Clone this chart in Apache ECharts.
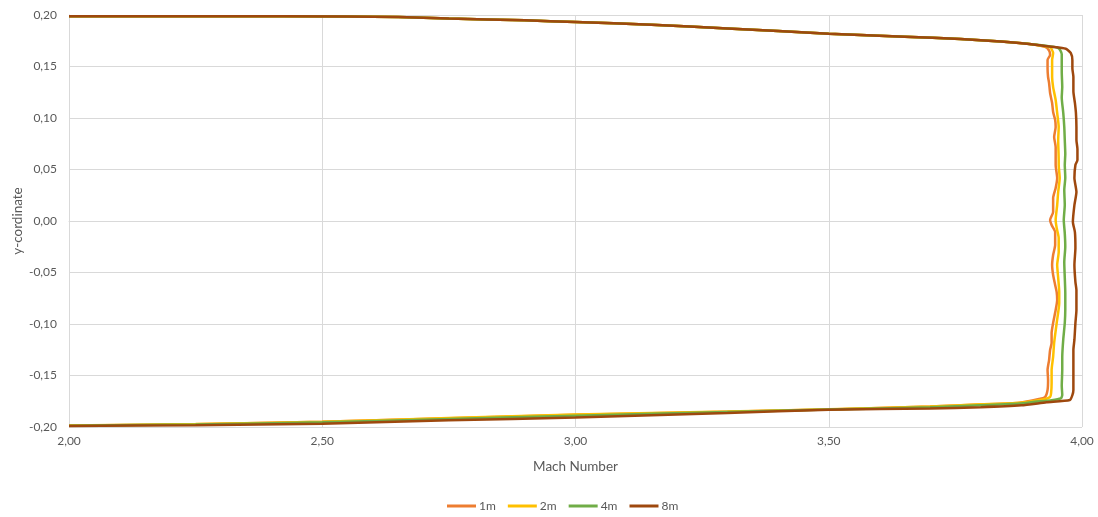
<!DOCTYPE html>
<html>
<head>
<meta charset="utf-8">
<title>Mach Number profile</title>
<script src="https://cdn.jsdelivr.net/npm/echarts@6/dist/echarts.min.js"></script>
<style>
  html, body { margin: 0; padding: 0; background: #ffffff; }
  #chart { width: 1098px; height: 517px; }
</style>
</head>
<body>
<div id="chart"></div>
<script>
// Mach number across the channel height, [mach, y] pairs ordered from top wall to bottom wall.
var seriesNames = ['1m', '2m', '4m', '8m'];

var topWall = [
  [2.00, 0.1988], [2.30, 0.1988], [2.55, 0.1986], [2.65, 0.1980], [2.75, 0.1965],
  [2.90, 0.1948], [3.00, 0.1932], [3.15, 0.1905], [3.30, 0.1870], [3.50, 0.1818],
  [3.65, 0.1790], [3.76, 0.1767], [3.84, 0.1742], [3.90, 0.1716]
];

var profile1m = [
  [3.927, 0.1690], [3.935, 0.1655], [3.937, 0.1612], [3.932, 0.1563], [3.932, 0.1480],
  [3.933, 0.1398], [3.935, 0.1340], [3.937, 0.1243], [3.941, 0.1146], [3.943, 0.1058],
  [3.947, 0.0980], [3.948, 0.0913], [3.945, 0.0816], [3.948, 0.0718], [3.948, 0.0592],
  [3.948, 0.0544], [3.951, 0.0417], [3.948, 0.0320], [3.943, 0.0223], [3.943, 0.0087],
  [3.937, 0.0010], [3.940, -0.0039], [3.947, -0.0107], [3.947, -0.0233], [3.943, -0.0330],
  [3.941, -0.0427], [3.943, -0.0524], [3.947, -0.0621], [3.950, -0.0690], [3.951, -0.0767],
  [3.948, -0.0864], [3.943, -0.0990], [3.940, -0.1087], [3.940, -0.1184], [3.937, -0.1252],
  [3.935, -0.1350], [3.932, -0.1447], [3.933, -0.1544], [3.932, -0.1640], [3.927, -0.1709],
  [3.915, -0.1728], [3.877, -0.1764], [3.80, -0.1781], [3.70, -0.1801], [3.50, -0.1829],
  [3.30, -0.1851], [3.00, -0.1882], [2.75, -0.1914], [2.50, -0.1950], [2.25, -0.1973],
  [2.00, -0.1986]
];

var profile2m = [
  [3.937, 0.1685], [3.943, 0.1630], [3.941, 0.1563], [3.941, 0.1480], [3.941, 0.1398],
  [3.943, 0.1300], [3.948, 0.1175], [3.951, 0.1049], [3.954, 0.0913], [3.953, 0.0786],
  [3.954, 0.0592], [3.954, 0.0544], [3.956, 0.0417], [3.953, 0.0282], [3.951, 0.0155],
  [3.948, 0.0010], [3.950, -0.0068], [3.954, -0.0165], [3.954, -0.0301], [3.951, -0.0427],
  [3.953, -0.0553], [3.955, -0.0689], [3.955, -0.0796], [3.950, -0.0990], [3.945, -0.1184],
  [3.943, -0.1320], [3.940, -0.1447], [3.940, -0.1573], [3.939, -0.1670], [3.937, -0.1709],
  [3.925, -0.1730], [3.877, -0.1764], [3.80, -0.1780], [3.70, -0.1800], [3.50, -0.1828],
  [3.30, -0.1850], [3.00, -0.1879], [2.75, -0.1912], [2.50, -0.1949], [2.25, -0.1972],
  [2.00, -0.1985]
];

var profile4m = [
  [3.953, 0.1680], [3.960, 0.1620], [3.960, 0.1563], [3.960, 0.1450], [3.961, 0.1300],
  [3.960, 0.1200], [3.963, 0.1049], [3.965, 0.0913], [3.966, 0.0786], [3.967, 0.0650],
  [3.966, 0.0544], [3.967, 0.0420], [3.965, 0.0300], [3.966, 0.0155], [3.964, 0.0010],
  [3.966, -0.0120], [3.967, -0.0250], [3.965, -0.0400], [3.966, -0.0550], [3.967, -0.0700],
  [3.967, -0.0860], [3.966, -0.0990], [3.963, -0.1150], [3.961, -0.1320], [3.961, -0.1450],
  [3.960, -0.1600], [3.961, -0.1690], [3.958, -0.1723], [3.940, -0.1740], [3.907, -0.1755],
  [3.877, -0.1772], [3.80, -0.1790], [3.70, -0.1808], [3.50, -0.1830], [3.30, -0.1855],
  [3.00, -0.1890], [2.75, -0.1922], [2.50, -0.1955], [2.25, -0.1975], [2.00, -0.1987]
];

var profile8m = [
  [3.940, 0.1692], [3.968, 0.1672], [3.978, 0.1630], [3.981, 0.1560], [3.981, 0.1480],
  [3.983, 0.1400], [3.983, 0.1260], [3.986, 0.1146], [3.988, 0.1049], [3.989, 0.0913],
  [3.989, 0.0786], [3.991, 0.0700], [3.991, 0.0592], [3.987, 0.0544], [3.985, 0.0417],
  [3.989, 0.0282], [3.985, 0.0155], [3.982, -0.0010], [3.986, -0.0107], [3.987, -0.0262],
  [3.985, -0.0427], [3.987, -0.0592], [3.989, -0.0670], [3.989, -0.0864], [3.987, -0.0990],
  [3.985, -0.1155], [3.983, -0.1252], [3.983, -0.1447], [3.983, -0.1640], [3.981, -0.1690],
  [3.976, -0.1738], [3.930, -0.1760], [3.880, -0.1790], [3.80, -0.1808], [3.70, -0.1820],
  [3.50, -0.1832], [3.30, -0.1865], [3.00, -0.1908], [2.75, -0.1935], [2.50, -0.1968],
  [2.25, -0.1982], [2.00, -0.1990]
];

var profiles = [profile1m, profile2m, profile4m, profile8m];
var lineColors = ['#ED7D31', '#FFC000', '#70AD47', '#9E480E'];

var xTicks = { min: 2.0, max: 4.0, step: 0.5 };
var yTicks = { min: -0.2, max: 0.2, step: 0.05 };

function commaFormat(v) {
  return (Math.round(v * 100) / 100).toFixed(2).replace('.', ',');
}

var textColor = '#595959';
var gridColor = '#d9d9d9';
var fontFamily = 'Lato, "Open Sans", sans-serif';

var chart = echarts.init(document.getElementById('chart'), null, { renderer: 'canvas' });

chart.setOption({
  animation: false,
  backgroundColor: '#ffffff',
  textStyle: { fontFamily: fontFamily },
  grid: { left: 69, right: 16, top: 15, bottom: 90, containLabel: false, outerBoundsMode: 'none' },
  legend: {
    bottom: 0,
    left: 442,
    icon: 'rect',
    itemWidth: 29,
    itemHeight: 3,
    itemGap: 12,
    textStyle: { color: textColor, fontSize: 12, fontFamily: fontFamily, padding: [0, 0, 0, -2] },
    data: seriesNames
  },
  xAxis: {
    type: 'value',
    min: xTicks.min,
    max: xTicks.max,
    interval: xTicks.step,
    name: 'Mach Number',
    nameLocation: 'middle',
    nameGap: 33,
    nameMoveOverlap: false,
    nameTextStyle: { color: textColor, fontSize: 13.5, fontFamily: fontFamily },
    axisLine: { show: true, lineStyle: { color: gridColor, width: 1 } },
    axisTick: { show: false },
    axisLabel: { color: textColor, fontSize: 12, margin: 8, formatter: commaFormat },
    splitLine: { show: true, lineStyle: { color: gridColor, width: 1 } }
  },
  yAxis: {
    type: 'value',
    min: yTicks.min,
    max: yTicks.max,
    interval: yTicks.step,
    name: 'y-cordinate',
    nameLocation: 'middle',
    nameGap: 51,
    nameRotate: 90,
    nameMoveOverlap: false,
    nameTextStyle: { color: textColor, fontSize: 13.5, fontFamily: fontFamily, verticalAlign: 'middle' },
    axisLine: { show: true, onZero: false, lineStyle: { color: gridColor, width: 1 } },
    axisTick: { show: false },
    axisLabel: { color: textColor, fontSize: 12, margin: 12, formatter: commaFormat },
    splitLine: { show: true, lineStyle: { color: gridColor, width: 1 } }
  },
  series: seriesNames.map(function (name, i) {
    return {
      name: name,
      type: 'line',
      data: topWall.concat(profiles[i]),
      showSymbol: false,
      symbol: 'none',
      smooth: 0.2,
      clip: false,
      lineStyle: { color: lineColors[i], width: 2.5 },
      itemStyle: { color: lineColors[i] },
      emphasis: { disabled: true }
    };
  })
});
</script>
</body>
</html>
